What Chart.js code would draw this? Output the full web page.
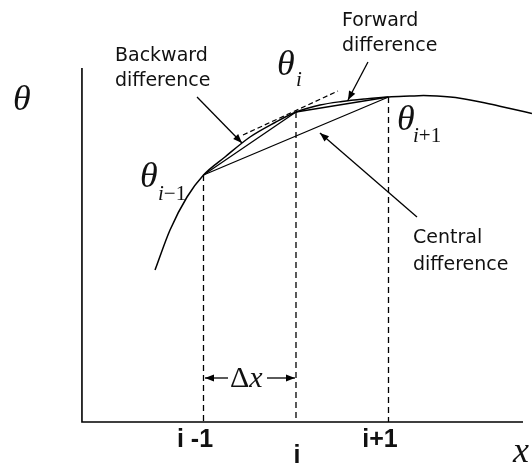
<!DOCTYPE html>
<html lang="en">
<head>
    <meta charset="UTF-8">
    <title>Finite differences</title>
    <script src="https://cdn.jsdelivr.net/npm/chart.js"></script>
    <style>
        html, body { margin: 0; padding: 0; background: #fff; }
        canvas { display: block; }
    </style>
</head>
<body>
    <canvas id="diffChart" width="532" height="466"></canvas>
    <script>
        // grid nodes (x in units of dx, i = 0) and theta values
        const nodeX = [-1, 0, 1];
        const nodeTheta = [2.47, 3.10, 3.25];
        const tickLabels = ['i -1', 'i', 'i+1'];

        // the underlying curve theta(x)
        const curveX = [-1.524, -1.362, -1.178, -1.0, -0.768, -0.497, -0.227, 0, 0.259, 0.497, 0.746, 1.0, 1.232, 1.378, 1.524, 1.773, 2.097, 2.314, 2.551];
        const curveTheta = [1.52, 1.92, 2.25, 2.47, 2.65, 2.85, 2.995, 3.10, 3.17, 3.205, 3.23, 3.25, 3.259, 3.264, 3.259, 3.238, 3.18, 3.135, 3.085];

        // dashed tangent at node i
        const tangentX = [-0.573, 0.454];
        const tangentTheta = [2.87, 3.31];

        // axes extent
        const axisX = [-2.314, -2.314, 2.454];
        const axisTheta = [3.54, 0, 0];

        // leader arrows [x0, y0, x1, y1]
        const backwardArrow = [-1.070, 3.25, -0.584, 2.79];
        const forwardArrow = [0.778, 3.60, 0.562, 3.22];
        const centralArrow = [1.308, 2.05, 0.259, 2.89];
        const dxLevel = 0.44;

        const pts = (xs, ys) => xs.map((x, k) => ({ x: x, y: ys[k] }));
        const seg = a => [{ x: a[0], y: a[1] }, { x: a[2], y: a[3] }];

        const line = (data, extra) => Object.assign({
            data: data,
            showLine: true,
            borderColor: '#000',
            borderWidth: 1.3,
            pointRadius: 0,
            tension: 0,
            clip: false
        }, extra || {});

        const datasets = [
            line(pts(axisX, axisTheta), { borderWidth: 1.6 }),
            line(pts(curveX, curveTheta), { cubicInterpolationMode: 'monotone', borderWidth: 1.5 }),
            // backward, forward, central chords
            line(pts([nodeX[0], nodeX[1]], [nodeTheta[0], nodeTheta[1]])),
            line(pts([nodeX[1], nodeX[2]], [nodeTheta[1], nodeTheta[2]])),
            line(pts([nodeX[0], nodeX[2]], [nodeTheta[0], nodeTheta[2]])),
            line(pts(tangentX, tangentTheta), { borderDash: [5, 3], borderWidth: 1.2 }),
            line(seg(backwardArrow), { arrow: true }),
            line(seg(forwardArrow), { arrow: true }),
            line(seg(centralArrow), { arrow: true }),
            line(seg([-0.735, dxLevel, -0.984, dxLevel]), { arrow: true }),
            line(seg([-0.314, dxLevel, -0.011, dxLevel]), { arrow: true })
        ];
        nodeX.forEach((x, k) => {
            datasets.push(line(pts([x, x], [nodeTheta[k], 0]), { borderDash: [6, 4], borderWidth: 1.3 }));
        });

        const serifI = 'italic 36px "Liberation Serif"';
        const subI = 'italic 21px "Liberation Serif"';
        const subN = '21px "Liberation Serif"';
        const sans = '19px "DejaVu Sans"';
        const tickFont = 'bold 25px "Liberation Sans"';

        const texts = [
            { x: -3.059, y: 3.12, parts: [['θ', serifI]] },
            { x: -1.957, y: 3.61, parts: [['Backward', sans]] },
            { x: -1.957, y: 3.36, parts: [['difference', sans]] },
            { x: 0.497, y: 3.96, parts: [['Forward', sans]] },
            { x: 0.497, y: 3.71, parts: [['difference', sans]] },
            { x: 1.265, y: 1.79, parts: [['Central', sans]] },
            { x: 1.265, y: 1.52, parts: [['difference', sans]] },
            { x: -0.205, y: 3.47, parts: [['θ', serifI]] },
            { x: 0, y: 3.36, parts: [['i', subI]] },
            { x: -1.686, y: 2.35, parts: [['θ', serifI]] },
            { x: -1.492, y: 2.22, parts: [['i', subI], ['−1', subN]] },
            { x: 1.092, y: 2.92, parts: [['θ', serifI]] },
            { x: 1.265, y: 2.80, parts: [['i', subI], ['+1', subN]] },
            { x: -0.714, y: 0.35, parts: [['Δ', '30px "Liberation Serif"'], ['x', 'italic 30px "Liberation Serif"']] },
            { x: nodeX[0] - 0.092, y: -0.25, align: 'center', parts: [[tickLabels[0], tickFont]] },
            { x: nodeX[1] + 0.01, y: -0.41, align: 'center', parts: [[tickLabels[1], tickFont]] },
            { x: nodeX[2] - 0.092, y: -0.25, align: 'center', parts: [[tickLabels[2], tickFont]] },
            { x: 2.346, y: -0.40, parts: [['x', 'italic 36px "Liberation Serif"']] }
        ];

        const arrowPlugin = {
            id: 'arrows',
            afterDatasetsDraw(chart) {
                const ctx = chart.ctx;
                chart.data.datasets.forEach((ds, i) => {
                    if (!ds.arrow) return;
                    const d = chart.getDatasetMeta(i).data;
                    const a = d[d.length - 2], b = d[d.length - 1];
                    const ang = Math.atan2(b.y - a.y, b.x - a.x);
                    ctx.save();
                    ctx.translate(b.x, b.y);
                    ctx.rotate(ang);
                    ctx.fillStyle = '#000';
                    ctx.beginPath();
                    ctx.moveTo(0, 0);
                    ctx.lineTo(-9, -3.5);
                    ctx.lineTo(-9, 3.5);
                    ctx.closePath();
                    ctx.fill();
                    ctx.restore();
                });
            }
        };

        const textPlugin = {
            id: 'texts',
            afterDraw(chart) {
                const ctx = chart.ctx;
                const xs = chart.scales.x, ys = chart.scales.y;
                ctx.save();
                ctx.fillStyle = '#111';
                ctx.textBaseline = 'alphabetic';
                ctx.textAlign = 'left';
                texts.forEach(t => {
                    let px = xs.getPixelForValue(t.x);
                    const py = ys.getPixelForValue(t.y);
                    if (t.align === 'center') {
                        let w = 0;
                        t.parts.forEach(p => { ctx.font = p[1]; w += ctx.measureText(p[0]).width; });
                        px -= w / 2;
                    }
                    t.parts.forEach(p => {
                        ctx.font = p[1];
                        ctx.fillText(p[0], px, py);
                        px += ctx.measureText(p[0]).width;
                    });
                });
                ctx.restore();
            }
        };

        new Chart(document.getElementById('diffChart'), {
            type: 'scatter',
            data: { datasets: datasets },
            options: {
                responsive: false,
                animation: false,
                devicePixelRatio: 1,
                layout: { padding: 0 },
                plugins: { legend: { display: false }, tooltip: { enabled: false } },
                scales: {
                    x: { type: 'linear', min: -3.2, max: 2.5514, display: false },
                    y: { type: 'linear', min: -0.44, max: 4.22, display: false }
                }
            },
            plugins: [arrowPlugin, textPlugin]
        });
    </script>
</body>
</html>
